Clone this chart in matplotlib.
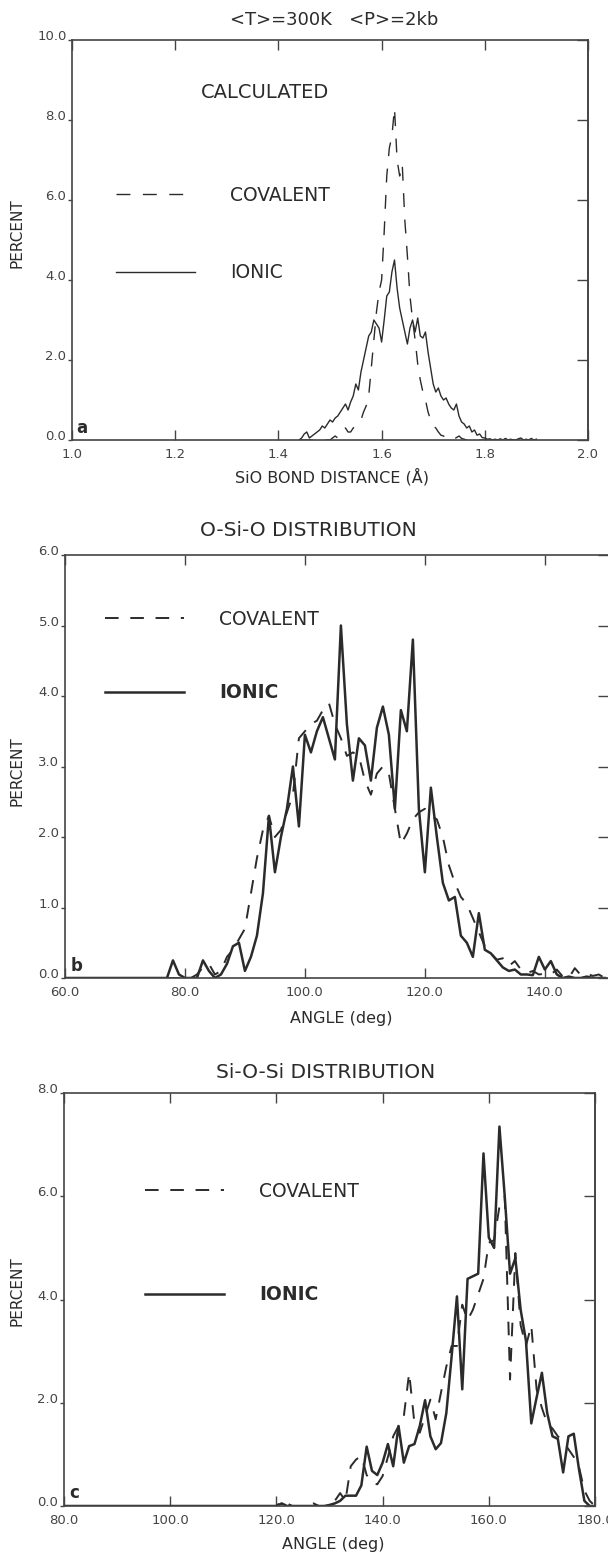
import numpy as np
import matplotlib
matplotlib.use("Agg")
import matplotlib.pyplot as plt

# ---- data (percent per bin) ----
# panel a: Si-O bond distance, bins of 0.005 A starting at 1.440
dist_a = np.round(np.arange(1.440, 1.9001, 0.005), 3)
ionic_a = [0.0, 0.05, 0.15, 0.2, 0.05, 0.1, 0.15, 0.2, 0.25, 0.35,
           0.3, 0.4, 0.5, 0.45, 0.55, 0.6, 0.7, 0.8, 0.9, 0.75,
           0.95, 1.1, 1.4, 1.25, 1.7, 2.0, 2.3, 2.6, 2.7, 3.0,
           2.9, 2.8, 2.45, 3.0, 3.6, 3.7, 4.2, 4.5, 3.8, 3.3,
           3.0, 2.7, 2.4, 2.8, 3.0, 2.7, 3.05, 2.6, 2.55, 2.7,
           2.2, 1.8, 1.4, 1.2, 1.3, 1.1, 1.0, 1.05, 0.9, 0.8,
           0.75, 0.9, 0.6, 0.45, 0.4, 0.3, 0.35, 0.2, 0.25, 0.12,
           0.15, 0.06, 0.05, 0.02, 0.03, 0.0, 0.02, 0.0, 0.03, 0.0,
           0.04, 0.0, 0.02, 0.0, 0.0, 0.03, 0.05, 0.0, 0.02, 0.0,
           0.04, 0.0, 0.02]
covalent_a = [0.0, 0.0, 0.0, 0.0, 0.0, 0.0, 0.0, 0.0, 0.0, 0.0,
              0.0, 0.0, 0.0, 0.05, 0.1, 0.05, 0.15, 0.25, 0.3, 0.2,
              0.2, 0.3, 0.35, 0.4, 0.5, 0.7, 0.85, 1.1, 1.8, 2.5,
              3.2, 3.7, 4.0, 5.2, 6.6, 7.3, 7.6, 8.3, 7.0, 6.6,
              6.9, 5.5, 4.6, 3.6, 3.0, 2.5, 1.9, 1.5, 1.2, 1.0,
              0.7, 0.5, 0.35, 0.3, 0.2, 0.12, 0.1, 0.05, 0.08, 0.04,
              0.02, 0.06, 0.1, 0.04, 0.02, 0.0, 0.03, 0.0, 0.0, 0.0,
              0.0, 0.0, 0.0, 0.0, 0.0, 0.0, 0.0, 0.0, 0.0, 0.0,
              0.0, 0.0, 0.0, 0.0, 0.0, 0.0, 0.0, 0.0, 0.0, 0.0,
              0.0, 0.0, 0.0]

# panel b: O-Si-O angle, 1 degree bins from 60 to 150
angle_b = np.arange(60, 151)
ionic_b = [0, 0, 0, 0, 0, 0, 0, 0, 0, 0,
           0, 0, 0, 0, 0, 0, 0, 0, 0.25, 0.05,
           0, 0, 0, 0.25, 0.1, 0, 0.05, 0.2, 0.45, 0.5,
           0.1, 0.3, 0.6, 1.2, 2.3, 1.5, 2.0, 2.4, 3.0, 2.15,
           3.45, 3.2, 3.5, 3.7, 3.4, 3.1, 5.0, 3.6, 2.8, 3.4,
           3.3, 2.8, 3.55, 3.85, 3.45, 2.4, 3.8, 3.5, 4.8, 2.4,
           1.5, 2.7, 2.0, 1.35, 1.1, 1.15, 0.6, 0.5, 0.3, 0.92,
           0.4, 0.35, 0.25, 0.15, 0.1, 0.12, 0.05, 0.05, 0.04, 0.3,
           0.12, 0.24, 0.05, 0.0, 0.02, 0.0, 0.0, 0.02, 0.0, 0.0,
           0.0]
covalent_b = [0, 0, 0, 0, 0, 0, 0, 0, 0, 0,
              0, 0, 0, 0, 0, 0, 0, 0, 0, 0,
              0, 0, 0.05, 0.15, 0.2, 0.05, 0.1, 0.3, 0.4, 0.55,
              0.7, 1.2, 1.7, 2.1, 2.3, 2.0, 2.1, 2.35, 2.6, 3.4,
              3.5, 3.6, 3.65, 3.8, 3.9, 3.6, 3.4, 3.15, 3.2, 3.15,
              2.8, 2.6, 2.9, 3.0, 2.9, 2.4, 1.9, 2.05, 2.25, 2.35,
              2.4, 2.3, 2.25, 2.0, 1.6, 1.35, 1.15, 1.05, 0.85, 0.65,
              0.45, 0.35, 0.26, 0.28, 0.17, 0.24, 0.12, 0.07, 0.1, 0.05,
              0.06, 0.05, 0.12, 0.02, 0.0, 0.14, 0.04, 0.06, 0.03, 0.05,
              0.0]

# panel c: Si-O-Si angle, 1 degree bins from 80 to 180
angle_c = np.arange(80, 181)
ionic_c = [0, 0, 0, 0, 0, 0, 0, 0, 0, 0,
           0, 0, 0, 0, 0, 0, 0, 0, 0, 0,
           0, 0, 0, 0, 0, 0, 0, 0, 0, 0,
           0, 0, 0, 0, 0, 0, 0, 0, 0, 0,
           0, 0.05, 0, 0, 0, 0, 0, 0, 0, 0,
           0.02, 0.05, 0.1, 0.2, 0.2, 0.2, 0.4, 1.15, 0.68, 0.6,
           0.84, 1.2, 0.77, 1.55, 0.84, 1.16, 1.2, 1.55, 2.05, 1.35,
           1.1, 1.22, 1.8, 2.9, 4.06, 2.26, 4.4, 4.45, 4.5, 6.83,
           5.2, 5.0, 7.35, 6.0, 4.5, 4.8, 3.8, 3.2, 1.6, 2.1,
           2.58, 1.8, 1.35, 1.3, 0.65, 1.35, 1.4, 0.7, 0.1, 0.0,
           0.0]
covalent_c = [0, 0, 0, 0, 0, 0, 0, 0, 0, 0,
              0, 0, 0, 0, 0, 0, 0, 0, 0, 0,
              0, 0, 0, 0, 0, 0, 0, 0, 0, 0,
              0, 0, 0, 0, 0, 0, 0, 0, 0, 0,
              0, 0.1, 0.05, 0, 0, 0, 0.05, 0.05, 0, 0,
              0, 0.1, 0.25, 0.1, 0.77, 0.9, 0.97, 0.6, 0.45, 0.42,
              0.58, 0.95, 1.35, 1.55, 1.74, 2.58, 1.6, 1.42, 1.74, 2.06,
              1.68, 2.2, 2.7, 3.1, 3.1, 3.9, 3.6, 3.8, 4.1, 4.4,
              5.1, 5.15, 5.8, 6.0, 2.45, 4.9, 3.5, 3.1, 3.5, 2.26,
              1.9, 1.6, 1.5, 1.35, 1.25, 1.1, 0.95, 0.75, 0.3, 0.1,
              0.0]

INK = "#2b2b2b"
GREY = "#444444"
W, H = 608, 1554
fig = plt.figure(figsize=(W / 100, H / 100), dpi=100)
fig.patch.set_facecolor("white")


def box(l, t, r, b):
    return [l / W, 1 - b / H, (r - l) / W, (b - t) / H]


def at(x, y):
    return x / W, 1 - y / H


def style(ax, xlim, xticks, ylim, yticks):
    ax.set_xlim(xlim)
    ax.set_ylim(ylim)
    ax.set_xticks(xticks)
    ax.set_xticklabels(["%.1f" % v for v in xticks])
    ax.set_yticks(yticks)
    ax.set_yticklabels(["%.1f" % v for v in yticks])
    for s in ax.spines.values():
        s.set_linewidth(1.2)
        s.set_color(GREY)
    ax.tick_params(axis="x", direction="in", length=7, width=1.0, top=True,
                   labelsize=9.5, colors=GREY, pad=6)
    ax.tick_params(axis="y", direction="out", length=3, width=1.0,
                   labelsize=9.5, colors=GREY, pad=1)
    for lbl in ax.get_yticklabels():
        lbl.set_va("baseline")
    r = ax.secondary_yaxis("right")
    r.set_yticks(yticks)
    r.tick_params(direction="in", length=8, width=1.0, labelright=False, colors=GREY)
    r.spines["right"].set_linewidth(1.2)
    r.spines["right"].set_color(GREY)


def legend(ax, cov, ion, left, top, gap, bold):
    leg = ax.legend(handles=[cov, ion], loc="upper left",
                    bbox_to_anchor=at(left, top), bbox_transform=fig.transFigure,
                    frameon=False, fontsize=13.5, handlelength=4.2,
                    handletextpad=1.9, labelspacing=gap, borderpad=0,
                    borderaxespad=0)
    for t in leg.get_texts():
        t.set_color(INK)
    if bold:
        leg.get_texts()[1].set_fontweight("bold")


# ---- panel a ----
ax_a = fig.add_axes(box(72, 40, 588, 440))
ion, = ax_a.plot(dist_a, ionic_a, color=INK, lw=1.0, label="IONIC")
cov, = ax_a.plot(dist_a, covalent_a, color=INK, lw=1.0, ls=(0, (10, 9)),
                 label="COVALENT")
style(ax_a, (1.0, 2.0), [1.0, 1.2, 1.4, 1.6, 1.8, 2.0], (0, 10),
      [0, 2, 4, 6, 8, 10])
legend(ax_a, cov, ion, 116, 186, 3.1, False)

# ---- panel b ----
ax_b = fig.add_axes(box(65, 555, 609, 978))
ion, = ax_b.plot(angle_b, ionic_b, color=INK, lw=1.8, label="IONIC")
cov, = ax_b.plot(angle_b, covalent_b, color=INK, lw=1.4, ls=(0, (7, 6)),
                 label="COVALENT")
style(ax_b, (60, 150.7), [60, 80, 100, 120, 140], (0, 6), [0, 1, 2, 3, 4, 5, 6])
legend(ax_b, cov, ion, 105, 610, 2.9, True)

# ---- panel c ----
ax_c = fig.add_axes(box(64, 1093, 595, 1506))
ion, = ax_c.plot(angle_c, ionic_c, color=INK, lw=1.8, label="IONIC")
cov, = ax_c.plot(angle_c, covalent_c, color=INK, lw=1.4, ls=(0, (7, 6)),
                 label="COVALENT")
style(ax_c, (80, 180), [80, 100, 120, 140, 160, 180], (0, 8), [0, 2, 4, 6, 8])
legend(ax_c, cov, ion, 145, 1182, 4.5, True)

# ---- texts ----
txt = dict(color=INK, ha="center", va="center")
fig.text(*at(334, 20), "<T>=300K   <P>=2kb", fontsize=13, **txt)
fig.text(*at(265, 93), "CALCULATED", fontsize=14, **txt)
fig.text(*at(332, 477), "SiO BOND DISTANCE (Å)", fontsize=11.5, **txt)
fig.text(*at(308, 530), "O-Si-O DISTRIBUTION", fontsize=14.5, **txt)
fig.text(*at(341, 1018), "ANGLE (deg)", fontsize=11.5, **txt)
fig.text(*at(326, 1072), "Si-O-Si DISTRIBUTION", fontsize=14.5, **txt)
fig.text(*at(333, 1545), "ANGLE (deg)", fontsize=11.5, **txt)
for y in (233, 771, 1291):
    fig.text(*at(17, y), "PERCENT", fontsize=11, rotation=90, **txt)
for s, (x, y) in zip("abc", [(82, 428), (77, 966), (74, 1493)]):
    fig.text(*at(x, y), s, fontsize=12, fontweight="bold", **txt)

fig.savefig("out.png", dpi=100, facecolor="white")
